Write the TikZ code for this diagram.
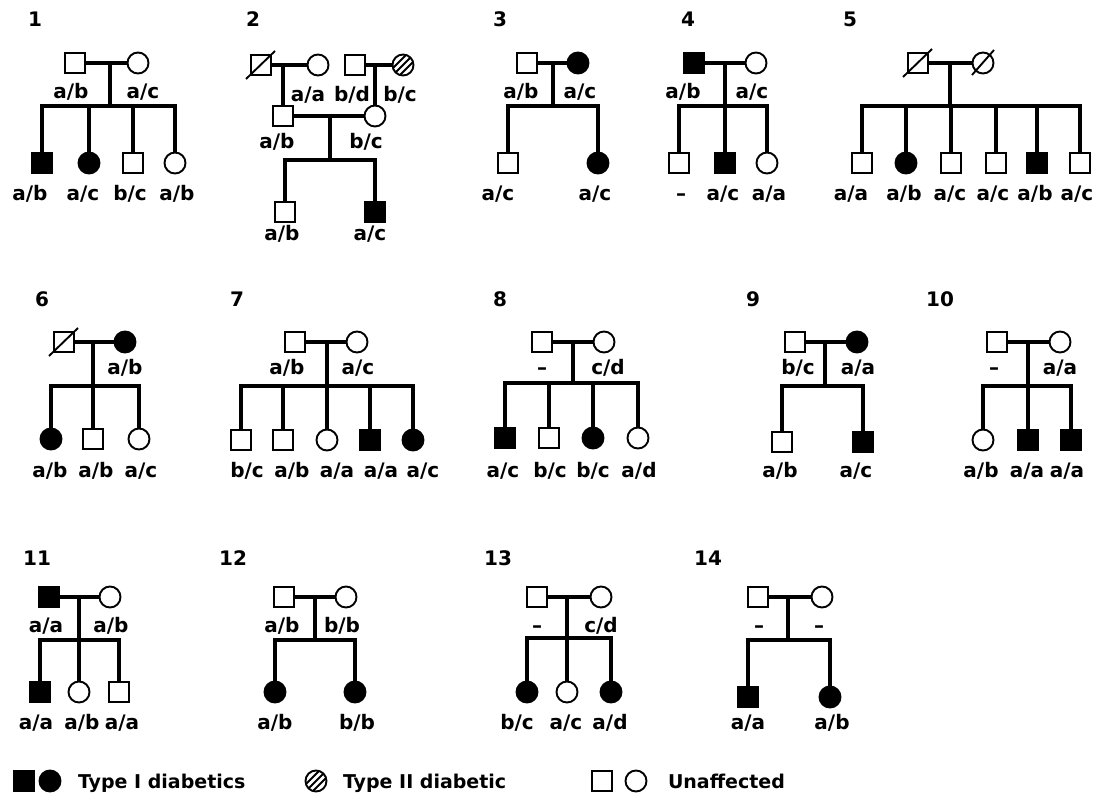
\documentclass[tikz,border=0pt]{standalone}
\usepackage{fontspec}
\setmainfont{DejaVu Sans}
\usetikzlibrary{calc}
\newcommand\labf{\bfseries\fontsize{20}{24}\selectfont}
\newcommand\legf{\bfseries\fontsize{19}{23}\selectfont}
\newcommand\deadsq[1]{\draw[deadl] ($(#1.center)+(-15,14)$) -- ($(#1.center)+(14,-14)$);}
\newcommand\deadci[1]{\draw[deadl] ($(#1.center)+(-11,12)$) -- ($(#1.center)+(11,-13)$);}
\begin{document}
\begin{tikzpicture}[x=1pt,y=-1pt,
  every node/.style={inner sep=0pt,outer sep=0pt},
  sym/.style={draw,line width=1.9pt,fill=white},
  sq/.style={sym,rectangle,minimum size=20pt},
  sqf/.style={sq,fill=black},
  ci/.style={sym,circle,minimum size=21pt},
  cif/.style={ci,fill=black},
  hci/.style={ci,path picture={
    \draw[line width=2.1pt] ([shift={(-19,12)}]path picture bounding box.center) -- ([shift={(5,-12)}]path picture bounding box.center);
    \draw[line width=2.1pt] ([shift={(-12,12)}]path picture bounding box.center) -- ([shift={(12,-12)}]path picture bounding box.center);
    \draw[line width=2.1pt] ([shift={(-5,12)}]path picture bounding box.center) -- ([shift={(19,-12)}]path picture bounding box.center);}},
  conn/.style={line width=3.4pt},
  deadl/.style={line width=1.9pt},
  lab/.style={font=\labf,anchor=base},
  num/.style={font=\labf,anchor=base},
  leg/.style={font=\legf,anchor=base west}]
\fill[white] (0,0) rectangle (1105,800);
\useasboundingbox (0,0) rectangle (1105,800);

% ---------- Pedigree 1
\node[num] (n1) at (35,27) {1};
\node[sq] (F1) at (75,63) {};
\node[ci] (M1) at (138,63) {};
\coordinate (m1) at (110,63);
\coordinate (s1) at (110,106);
\node[sqf] (c1a) at (42,163) {};
\node[cif] (c1b) at (89,163) {};
\node[sq] (c1c) at (133,163) {};
\node[ci] (c1d) at (175,163) {};
\draw[conn] (F1) -- (M1);
\draw[conn] (m1) -- (s1);
\draw[conn] (c1a) |- (s1) -| (c1d);
\draw[conn] (c1b) -- (c1b |- s1);
\draw[conn] (c1c) -- (c1c |- s1);
\node[lab] (t1a) at (71,98) {a/b};
\node[lab] (t1b) at (143,98) {a/c};
\node[lab] (b1a) at (30,200) {a/b};
\node[lab] (b1b) at (83,200) {a/c};
\node[lab] (b1c) at (130,200) {b/c};
\node[lab] (b1d) at (177,200) {a/b};

% ---------- Pedigree 2
\node[num] (n2) at (253,27) {2};
\node[sq] (F2a) at (261,65) {};
\node[ci] (M2a) at (318,65) {};
\node[sq] (F2b) at (355,65) {};
\node[hci] (M2b) at (403,65) {};
\node[sq] (S2) at (283,116) {};
\node[ci] (D2) at (375,116) {};
\coordinate (m2a) at (283,65);
\coordinate (m2b) at (375,65);
\coordinate (m2) at (330,116);
\coordinate (s2) at (330,160);
\node[sq] (c2a) at (285,212) {};
\node[sqf] (c2b) at (375,212) {};
\deadsq{F2a}
\draw[conn] (F2a) -- (M2a);
\draw[conn] (F2b) -- (M2b);
\draw[conn] (m2a) -- (S2);
\draw[conn] (m2b) -- (D2);
\draw[conn] (S2) -- (D2);
\draw[conn] (m2) -- (s2);
\draw[conn] (c2a) |- (s2) -| (c2b);
\node[lab] (t2a) at (308,101) {a/a};
\node[lab] (t2b) at (352,101) {b/d};
\node[lab] (t2c) at (400,101) {b/c};
\node[lab] (t2d) at (277,148) {a/b};
\node[lab] (t2e) at (366,148) {b/c};
\node[lab] (b2a) at (282,240) {a/b};
\node[lab] (b2b) at (370,240) {a/c};

% ---------- Pedigree 3
\node[num] (n3) at (500,27) {3};
\node[sq] (F3) at (527,63) {};
\node[cif] (M3) at (578,63) {};
\coordinate (m3) at (553,63);
\coordinate (s3) at (553,106);
\node[sq] (c3a) at (508,163) {};
\node[cif] (c3b) at (598,163) {};
\draw[conn] (F3) -- (M3);
\draw[conn] (m3) -- (s3);
\draw[conn] (c3a) |- (s3) -| (c3b);
\node[lab] (t3a) at (521,98) {a/b};
\node[lab] (t3b) at (580,98) {a/c};
\node[lab] (b3a) at (498,200) {a/c};
\node[lab] (b3b) at (595,200) {a/c};

% ---------- Pedigree 4
\node[num] (n4) at (688,27) {4};
\node[sqf] (F4) at (694,63) {};
\node[ci] (M4) at (756,63) {};
\coordinate (m4) at (725,63);
\coordinate (s4) at (725,106);
\node[sq] (c4a) at (679,163) {};
\node[sqf] (c4b) at (725,163) {};
\node[ci] (c4c) at (767,163) {};
\draw[conn] (F4) -- (M4);
\draw[conn] (m4) -- (s4);
\draw[conn] (c4a) |- (s4) -| (c4c);
\draw[conn] (c4b) -- (c4b |- s4);
\node[lab] (t4a) at (683,98) {a/b};
\node[lab] (t4b) at (752,98) {a/c};
\node[lab] (b4a) at (681,200) {–};
\node[lab] (b4b) at (723,200) {a/c};
\node[lab] (b4c) at (769,200) {a/a};

% ---------- Pedigree 5
\node[num] (n5) at (850,27) {5};
\node[sq] (F5) at (918,63) {};
\node[ci] (M5) at (983,63) {};
\coordinate (m5) at (950,63);
\coordinate (s5) at (950,106);
\node[sq] (c5a) at (862,163) {};
\node[cif] (c5b) at (906,163) {};
\node[sq] (c5c) at (951,163) {};
\node[sq] (c5d) at (996,163) {};
\node[sqf] (c5e) at (1037,163) {};
\node[sq] (c5f) at (1080,163) {};
\deadsq{F5}
\deadci{M5}
\draw[conn] (F5) -- (M5);
\draw[conn] (m5) -- (s5);
\draw[conn] (c5a) |- (s5) -| (c5f);
\draw[conn] (c5b) -- (c5b |- s5);
\draw[conn] (c5c) -- (c5c |- s5);
\draw[conn] (c5d) -- (c5d |- s5);
\draw[conn] (c5e) -- (c5e |- s5);
\node[lab] (b5a) at (851,200) {a/a};
\node[lab] (b5b) at (904,200) {a/b};
\node[lab] (b5c) at (950,200) {a/c};
\node[lab] (b5d) at (993,200) {a/c};
\node[lab] (b5e) at (1035,200) {a/b};
\node[lab] (b5f) at (1077,200) {a/c};

% ---------- Pedigree 6
\node[num] (n6) at (42,306) {6};
\node[sq] (F6) at (64,342) {};
\node[cif] (M6) at (125,342) {};
\coordinate (m6) at (93,342);
\coordinate (s6) at (93,386);
\node[cif] (c6a) at (51,439) {};
\node[sq] (c6b) at (93,439) {};
\node[ci] (c6c) at (139,439) {};
\deadsq{F6}
\draw[conn] (F6) -- (M6);
\draw[conn] (m6) -- (s6);
\draw[conn] (c6a) |- (s6) -| (c6c);
\draw[conn] (c6b) -- (c6b |- s6);
\node[lab] (t6a) at (125,374) {a/b};
\node[lab] (b6a) at (50,477) {a/b};
\node[lab] (b6b) at (96,477) {a/b};
\node[lab] (b6c) at (141,477) {a/c};

% ---------- Pedigree 7
\node[num] (n7) at (237,306) {7};
\node[sq] (F7) at (295,342) {};
\node[ci] (M7) at (357,342) {};
\coordinate (m7) at (327,342);
\coordinate (s7) at (327,386);
\node[sq] (c7a) at (241,440) {};
\node[sq] (c7b) at (283,440) {};
\node[ci] (c7c) at (327,440) {};
\node[sqf] (c7d) at (370,440) {};
\node[cif] (c7e) at (413,440) {};
\draw[conn] (F7) -- (M7);
\draw[conn] (m7) -- (s7);
\draw[conn] (c7a) |- (s7) -| (c7e);
\draw[conn] (c7b) -- (c7b |- s7);
\draw[conn] (c7c) -- (c7c |- s7);
\draw[conn] (c7d) -- (c7d |- s7);
\node[lab] (t7a) at (287,374) {a/b};
\node[lab] (t7b) at (358,374) {a/c};
\node[lab] (b7a) at (247,477) {b/c};
\node[lab] (b7b) at (292,477) {a/b};
\node[lab] (b7c) at (337,477) {a/a};
\node[lab] (b7d) at (381,477) {a/a};
\node[lab] (b7e) at (423,477) {a/c};

% ---------- Pedigree 8
\node[num] (n8) at (500,306) {8};
\node[sq] (F8) at (542,342) {};
\node[ci] (M8) at (604,342) {};
\coordinate (m8) at (573,342);
\coordinate (s8) at (573,383);
\node[sqf] (c8a) at (505,438) {};
\node[sq] (c8b) at (549,438) {};
\node[cif] (c8c) at (593,438) {};
\node[ci] (c8d) at (638,438) {};
\draw[conn] (F8) -- (M8);
\draw[conn] (m8) -- (s8);
\draw[conn] (c8a) |- (s8) -| (c8d);
\draw[conn] (c8b) -- (c8b |- s8);
\draw[conn] (c8c) -- (c8c |- s8);
\node[lab] (t8a) at (542,374) {–};
\node[lab] (t8b) at (608,374) {c/d};
\node[lab] (b8a) at (503,477) {a/c};
\node[lab] (b8b) at (550,477) {b/c};
\node[lab] (b8c) at (593,477) {b/c};
\node[lab] (b8d) at (639,477) {a/d};

% ---------- Pedigree 9
\node[num] (n9) at (753,306) {9};
\node[sq] (F9) at (795,342) {};
\node[cif] (M9) at (857,342) {};
\coordinate (m9) at (825,342);
\coordinate (s9) at (825,386);
\node[sq] (c9a) at (782,442) {};
\node[sqf] (c9b) at (863,442) {};
\draw[conn] (F9) -- (M9);
\draw[conn] (m9) -- (s9);
\draw[conn] (c9a) |- (s9) -| (c9b);
\node[lab] (t9a) at (798,374) {b/c};
\node[lab] (t9b) at (858,374) {a/a};
\node[lab] (b9a) at (780,477) {a/b};
\node[lab] (b9b) at (856,477) {a/c};

% ---------- Pedigree 10
\node[num] (n10) at (940,306) {10};
\node[sq] (F10) at (997,342) {};
\node[ci] (M10) at (1060,342) {};
\coordinate (m10) at (1028,342);
\coordinate (s10) at (1028,386);
\node[ci] (c10a) at (983,440) {};
\node[sqf] (c10b) at (1028,440) {};
\node[sqf] (c10c) at (1071,440) {};
\draw[conn] (F10) -- (M10);
\draw[conn] (m10) -- (s10);
\draw[conn] (c10a) |- (s10) -| (c10c);
\draw[conn] (c10b) -- (c10b |- s10);
\node[lab] (t10a) at (994,374) {–};
\node[lab] (t10b) at (1060,374) {a/a};
\node[lab] (b10a) at (981,477) {a/b};
\node[lab] (b10b) at (1027,477) {a/a};
\node[lab] (b10c) at (1067,477) {a/a};

% ---------- Pedigree 11
\node[num] (n11) at (37,565) {11};
\node[sqf] (F11) at (49,597) {};
\node[ci] (M11) at (110,597) {};
\coordinate (m11) at (79,597);
\coordinate (s11) at (79,640);
\node[sqf] (c11a) at (40,692) {};
\node[ci] (c11b) at (79,692) {};
\node[sq] (c11c) at (119,692) {};
\draw[conn] (F11) -- (M11);
\draw[conn] (m11) -- (s11);
\draw[conn] (c11a) |- (s11) -| (c11c);
\draw[conn] (c11b) -- (c11b |- s11);
\node[lab] (t11a) at (46,632) {a/a};
\node[lab] (t11b) at (111,632) {a/b};
\node[lab] (b11a) at (36,729) {a/a};
\node[lab] (b11b) at (82,729) {a/b};
\node[lab] (b11c) at (122,729) {a/a};

% ---------- Pedigree 12
\node[num] (n12) at (233,565) {12};
\node[sq] (F12) at (284,597) {};
\node[ci] (M12) at (346,597) {};
\coordinate (m12) at (315,597);
\coordinate (s12) at (315,640);
\node[cif] (c12a) at (275,692) {};
\node[cif] (c12b) at (355,692) {};
\draw[conn] (F12) -- (M12);
\draw[conn] (m12) -- (s12);
\draw[conn] (c12a) |- (s12) -| (c12b);
\node[lab] (t12a) at (282,632) {a/b};
\node[lab] (t12b) at (342,632) {b/b};
\node[lab] (b12a) at (275,729) {a/b};
\node[lab] (b12b) at (357,729) {b/b};

% ---------- Pedigree 13
\node[num] (n13) at (498,565) {13};
\node[sq] (F13) at (537,597) {};
\node[ci] (M13) at (601,597) {};
\coordinate (m13) at (567,597);
\coordinate (s13) at (567,638);
\node[cif] (c13a) at (527,692) {};
\node[ci] (c13b) at (567,692) {};
\node[cif] (c13c) at (611,692) {};
\draw[conn] (F13) -- (M13);
\draw[conn] (m13) -- (s13);
\draw[conn] (c13a) |- (s13) -| (c13c);
\draw[conn] (c13b) -- (c13b |- s13);
\node[lab] (t13a) at (537,632) {–};
\node[lab] (t13b) at (601,632) {c/d};
\node[lab] (b13a) at (517,729) {b/c};
\node[lab] (b13b) at (566,729) {a/c};
\node[lab] (b13c) at (610,729) {a/d};

% ---------- Pedigree 14
\node[num] (n14) at (708,565) {14};
\node[sq] (F14) at (758,597) {};
\node[ci] (M14) at (822,597) {};
\coordinate (m14) at (788,597);
\coordinate (s14) at (788,640);
\node[sqf] (c14a) at (748,697) {};
\node[cif] (c14b) at (830,697) {};
\draw[conn] (F14) -- (M14);
\draw[conn] (m14) -- (s14);
\draw[conn] (c14a) |- (s14) -| (c14b);
\node[lab] (t14a) at (759,632) {–};
\node[lab] (t14b) at (819,632) {–};
\node[lab] (b14a) at (748,729) {a/a};
\node[lab] (b14b) at (832,729) {a/b};

% ---------- Legend
\node[sqf] (lg1) at (24,781) {};
\node[cif] (lg2) at (50,781) {};
\node[leg] (lt1) at (78,788) {Type I diabetics};
\node[hci] (lg3) at (316,781) {};
\node[leg] (lt2) at (343,788) {Type II diabetic};
\node[sq] (lg4) at (602,781) {};
\node[ci] (lg5) at (636,781) {};
\node[leg] (lt3) at (668,788) {Unaffected};
\end{tikzpicture}
\end{document}
